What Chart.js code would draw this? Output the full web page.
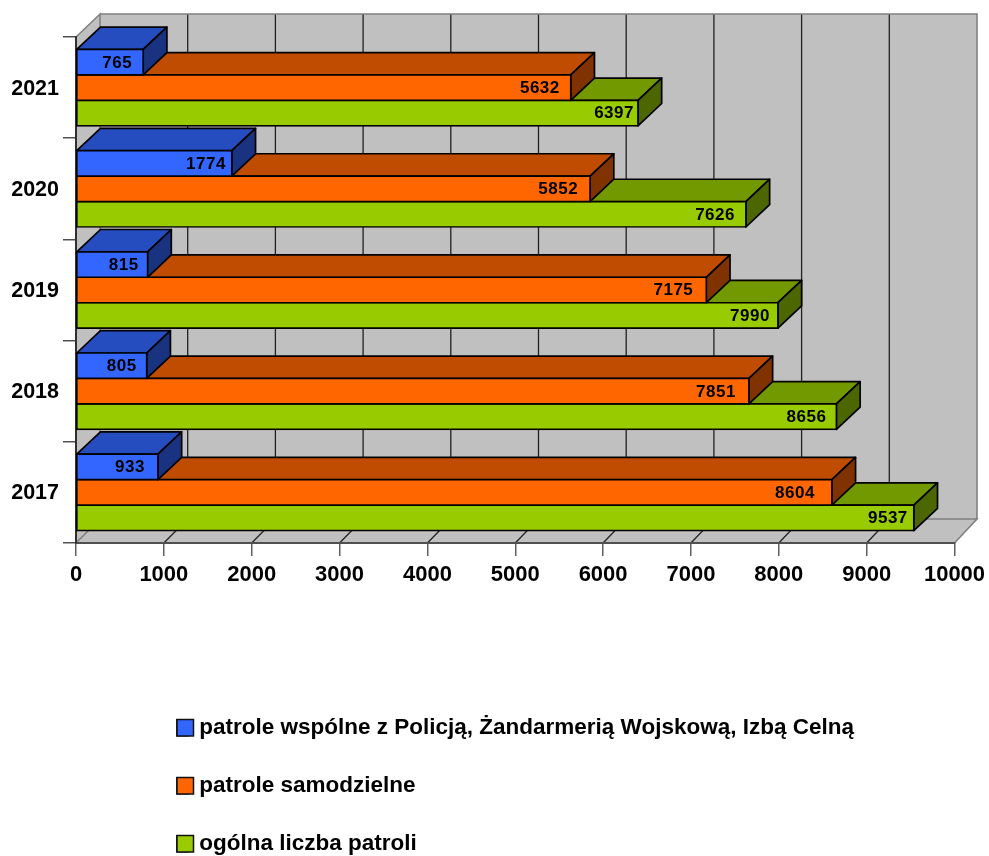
<!DOCTYPE html>
<html><head><meta charset="utf-8">
<style>html,body{margin:0;padding:0;background:#fff}canvas{display:block}</style>
<script src="https://cdn.jsdelivr.net/npm/chart.js@4"></script>
</head><body><canvas id="c" width="989" height="856"></canvas>
<script>
const categories = ['2021','2020','2019','2018','2017'];
const seriesNames = ['patrole wspólne z Policją, Żandarmerią Wojskową, Izbą Celną','patrole samodzielne','ogólna liczba patroli'];
const wspolne = [765,1774,815,805,933];
// 2018: the reference draws this bar at about 7660 although its printed label reads 7851
const samodzielne = [5632,5852,7175,7660,8604];
const samodzielnePrinted = [5632,5852,7175,7851,8604];
const ogolna = [6397,7626,7990,8656,9537];
const xTicks = [0,1000,2000,3000,4000,5000,6000,7000,8000,9000,10000];

const FONT = '"Liberation Sans", Arial, sans-serif';
const faces = [
  {front:'#3366FF', top:'#264DBF', side:'#1A3380'},
  {front:'#FF6600', top:'#BF4C00', side:'#803300'},
  {front:'#99CC00', top:'#739900', side:'#4C6600'}
];
const printed = [wspolne, samodzielnePrinted, ogolna];
const labelInsets = [[11,6,9,10,13],[11,12,13,13,17],[4,11,8,10,6]];
const DX = 23.7, DY = 22.3, WALL_DY = 24, WALL_X0 = 100, WALL_X1 = 977;

function poly(ctx, pts, fill, stroke, lw){
  ctx.beginPath();
  pts.forEach((p,i)=> i?ctx.lineTo(p[0],p[1]):ctx.moveTo(p[0],p[1]));
  ctx.closePath();
  if(fill){ctx.fillStyle=fill;ctx.fill();}
  if(stroke){ctx.strokeStyle=stroke;ctx.lineWidth=lw;ctx.lineJoin='round';ctx.stroke();}
}

const walls = {
  id:'walls',
  beforeDraw(chart){
    const {ctx,chartArea:a,scales:{x}} = chart;
    const bx = px => WALL_X0 + (px-a.left)*(WALL_X1-WALL_X0)/(a.right-a.left);
    const topY = a.top-23, backBottom = a.bottom-WALL_DY;
    ctx.save();
    poly(ctx,[[WALL_X0,topY],[WALL_X1,topY],[WALL_X1,backBottom],[WALL_X0,backBottom]],'#C0C0C0');
    poly(ctx,[[a.left,a.top],[WALL_X0,topY],[WALL_X0,backBottom],[a.left,a.bottom]],'#C0C0C0');
    poly(ctx,[[a.left,a.bottom],[WALL_X0,backBottom],[WALL_X1,backBottom],[a.right,a.bottom]],'#C0C0C0');
    // grid
    xTicks.slice(1,-1).forEach(v=>{
      const p = x.getPixelForValue(v);
      ctx.strokeStyle='#222';ctx.lineWidth=1.3;
      ctx.beginPath();ctx.moveTo(bx(p),topY);ctx.lineTo(bx(p),backBottom);ctx.lineTo(p,a.bottom);ctx.stroke();
    });
    const p0 = x.getPixelForValue(0);
    ctx.strokeStyle='#808080';ctx.lineWidth=1.6;
    ctx.beginPath();ctx.moveTo(p0,a.bottom);ctx.lineTo(WALL_X0,backBottom);ctx.lineTo(WALL_X1,backBottom);ctx.lineTo(a.right,a.bottom);ctx.stroke();
    ctx.beginPath();ctx.moveTo(WALL_X0,backBottom);ctx.lineTo(WALL_X0,topY);ctx.lineTo(a.left,a.top);ctx.stroke();
    ctx.beginPath();ctx.moveTo(WALL_X0,topY);ctx.lineTo(WALL_X1,topY);ctx.lineTo(WALL_X1,backBottom);ctx.stroke();
    ctx.restore();
  },
  afterLayout(chart){
    const lg = chart.legend, pad = lg.options.labels.padding;
    lg.left = 177 - pad;
    lg.right = 989;
    lg.top = 719.5 - 3 - pad;
    lg.bottom = 1000;
  },
  beforeDatasetDraw(chart,args){
    const {ctx} = chart;
    const f = faces[args.index];
    ctx.save();
    args.meta.data.forEach(el=>{
      const {x,y,base,height} = el.getProps(['x','y','base','height'],true);
      const t=y-height/2, b=y+height/2;
      poly(ctx,[[base,t],[base+DX,t-DY],[x+DX,t-DY],[x,t]],f.top,'#000',1.7);
      poly(ctx,[[x,t],[x+DX,t-DY],[x+DX,b-DY],[x,b]],f.side,'#000',1.7);
    });
    ctx.restore();
  },
  afterDatasetsDraw(chart){
    const {ctx} = chart;
    ctx.save();
    ctx.font = 'bold 17px '+FONT;
    ctx.letterSpacing = '0.5px';
    ctx.fillStyle='#000';ctx.textAlign='right';ctx.textBaseline='middle';
    chart.data.datasets.forEach((ds,di)=>{
      chart.getDatasetMeta(di).data.forEach((el,i)=>{
        ctx.fillText(String(printed[di][i]), el.x-labelInsets[di][i], el.y+0.7);
      });
    });
    ctx.restore();
  },
  afterDraw(chart){
    const {ctx} = chart, lg = chart.legend, o = lg.options.labels;
    ctx.save();
    lg.legendItems.forEach((it,i)=>{
      const y = lg.top + o.padding + i*(o.font.size+o.padding) + 3;
      const x = lg.left + o.padding;
      ctx.fillStyle=it.fillStyle;ctx.strokeStyle='#111';ctx.lineWidth=1.5;
      ctx.fillRect(x,y,16.5,16.5);ctx.strokeRect(x,y,16.5,16.5);
    });
    ctx.restore();
  }
};

const mk = (label,data,i)=>({label,data,backgroundColor:faces[i].front,borderColor:'#000',borderWidth:1.7,borderSkipped:false,inflateAmount:0.85});
new Chart(document.getElementById('c'),{
  type:'bar',
  data:{labels:categories,datasets:[mk(seriesNames[0],wspolne,0),mk(seriesNames[1],samodzielne,1),mk(seriesNames[2],ogolna,2)]},
  plugins:[walls],
  options:{
    indexAxis:'y',responsive:false,animation:false,devicePixelRatio:1,
    layout:{padding:{top:37,right:34.5,left:0,bottom:0}},
    datasets:{bar:{categoryPercentage:0.755,barPercentage:1}},
    plugins:{
      tooltip:{enabled:false},title:{display:false},
      legend:{position:'chartArea',align:'start',
        labels:{boxWidth:11,boxHeight:16,padding:35.5,color:'#000',font:{family:FONT,size:22.5,weight:'bold'}}}
    },
    scales:{
      x:{type:'linear',min:0,max:10000,
        afterFit(s){s.height=313;s.paddingRight=0;s.paddingLeft=0;},
        afterBuildTicks(s){s.ticks=xTicks.map(v=>({value:v}));},
        border:{display:true,color:'#505050',width:2},
        grid:{drawOnChartArea:false,drawTicks:true,tickLength:13,color:'#606060',lineWidth:1.5},
        ticks:{color:'#000',maxRotation:0,autoSkip:false,padding:6,callback:v=>String(v),font:{family:FONT,size:22,weight:'bold'}}
      },
      y:{type:'category',
        afterFit(s){s.width=76;},
        border:{display:true,color:'#303030',width:2},
        grid:{drawOnChartArea:false,drawTicks:true,tickLength:13,color:'#505050',lineWidth:1.5},
        ticks:{color:'#000',padding:4,labelOffset:1,font:{family:FONT,size:21.5,weight:'bold'}}
      }
    }
  }
});
</script></body></html>
